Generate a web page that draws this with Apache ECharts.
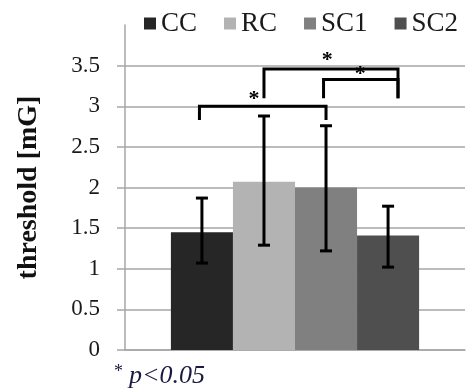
<!DOCTYPE html>
<html>
<head>
<meta charset="utf-8">
<script src="https://cdn.jsdelivr.net/npm/echarts@6/dist/echarts.min.js"></script>
<style>
  html, body { margin: 0; padding: 0; background: #fff; }
  #main { width: 469px; height: 392px; }
</style>
</head>
<body>
<div id="main"></div>
<script>
// groups and mean threshold values
const groupNames = ['CC', 'RC', 'SC1', 'SC2'];
const groupColors = ['#262626', '#b3b3b3', '#808080', '#4f4f4f'];
const means = [1.45, 2.07, 2.0, 1.41];
const errLow = [1.07, 1.29, 1.22, 1.02];
const errHigh = [1.87, 2.88, 2.76, 1.77];
const yTicks = [0, 0.5, 1, 1.5, 2, 2.5, 3, 3.5];

// significance brackets: [fromSlot, toSlot, lineValue, leftLegEnd, rightLegEnd]
const brackets = [
  [-0.04, 2.0, 3.0, 2.83, 2.83],
  [1.0, 3.16, 3.46, 3.1, 3.1],
  [1.96, 3.16, 3.33, 3.1, 3.1]
];
// stars: [slot, value]
const stars = [
  [0.84, 3.09],
  [2.02, 3.56],
  [2.55, 3.39]
];

const gapPct = 27;
const serif = '"Liberation Serif", "Times New Roman", serif';

function slotX(api, slot) {
  const c = api.coord([0, 0]);
  const band = api.size([1, 0])[0];
  const w = band * (1 - gapPct / 100) / groupNames.length;
  return c[0] + (slot - (groupNames.length - 1) / 2) * w;
}

const barSeries = groupNames.map((name, i) => ({
  name: name,
  type: 'bar',
  barGap: 0,
  barCategoryGap: gapPct + '%',
  itemStyle: { color: groupColors[i] },
  data: [means[i]]
}));

const errorSeries = {
  type: 'custom',
  z: 5,
  silent: true,
  data: groupNames.map((n, i) => [0, errLow[i], errHigh[i], i]),
  renderItem: function (params, api) {
    const x = slotX(api, api.value(3));
    const yl = api.coord([0, api.value(1)])[1];
    const yh = api.coord([0, api.value(2)])[1];
    const cap = 6;
    const style = { stroke: '#000', lineWidth: 3 };
    return {
      type: 'group',
      children: [
        { type: 'line', shape: { x1: x, y1: yl, x2: x, y2: yh }, style: style },
        { type: 'line', shape: { x1: x - cap, y1: yl, x2: x + cap, y2: yl }, style: style },
        { type: 'line', shape: { x1: x - cap, y1: yh, x2: x + cap, y2: yh }, style: style }
      ]
    };
  }
};

const bracketSeries = {
  type: 'custom',
  z: 6,
  silent: true,
  data: brackets.map(b => [0].concat(b)),
  renderItem: function (params, api) {
    const x1 = slotX(api, api.value(1));
    const x2 = slotX(api, api.value(2));
    const y = api.coord([0, api.value(3)])[1];
    const yl = api.coord([0, api.value(4)])[1];
    const yr = api.coord([0, api.value(5)])[1];
    return {
      type: 'polyline',
      shape: { points: [[x1, yl], [x1, y], [x2, y], [x2, yr]] },
      style: { stroke: '#000', lineWidth: 3, fill: null, lineJoin: 'miter' }
    };
  }
};

const starSeries = {
  type: 'custom',
  z: 4,
  silent: true,
  data: stars.map(s => [0].concat(s)),
  renderItem: function (params, api) {
    const x = slotX(api, api.value(1));
    const y = api.coord([0, api.value(2)])[1];
    return {
      type: 'text',
      x: x,
      y: y,
      style: {
        text: '*',
        fill: '#000',
        font: 'bold 22px ' + serif,
        align: 'center',
        verticalAlign: 'middle'
      }
    };
  }
};

const chart = echarts.init(document.getElementById('main'));
chart.setOption({
  animation: false,
  legend: {
    data: groupNames,
    left: 139,
    top: 5,
    icon: 'rect',
    itemWidth: 12,
    itemHeight: 12,
    itemGap: 27,
    textStyle: { fontFamily: serif, fontSize: 27, color: '#1a1a1a' }
  },
  grid: { left: 125, right: 4, top: 25, bottom: 42 },
  xAxis: {
    type: 'category',
    data: [''],
    axisLine: { lineStyle: { color: '#a6a6a6', width: 1.5 } },
    axisTick: { show: false },
    axisLabel: { show: false }
  },
  yAxis: {
    type: 'value',
    min: 0,
    max: 4,
    interval: 0.5,
    name: 'threshold [mG]',
    nameLocation: 'middle',
    nameRotate: 90,
    nameGap: 82,
    nameTextStyle: { fontFamily: serif, fontSize: 28, fontWeight: 'bold', color: '#111' },
    axisLine: { show: true, lineStyle: { color: '#a6a6a6', width: 1.5 } },
    axisTick: { show: true, length: 8, customValues: yTicks, lineStyle: { color: '#a6a6a6', width: 1.5 } },
    axisLabel: {
      customValues: yTicks,
      margin: 25,
      fontFamily: serif,
      fontSize: 23,
      color: '#1a1a1a'
    },
    splitLine: {
      lineStyle: {
        color: ['#a6a6a6', '#a6a6a6', '#a6a6a6', '#a6a6a6', '#a6a6a6', '#a6a6a6', '#a6a6a6', '#a6a6a6', 'transparent'],
        width: 1.5
      }
    }
  },
  graphic: [{
    type: 'text',
    left: 114,
    top: 363,
    style: {
      text: '{a|*}{b|p<0.05}',
      rich: {
        a: { fontFamily: serif, fontSize: 18, fill: '#1a1a40', verticalAlign: 'top', padding: [0, 6, 0, 0] },
        b: { fontFamily: serif, fontSize: 26, fontStyle: 'italic', fill: '#1a1a40' }
      }
    }
  }],
  series: barSeries.concat([errorSeries, starSeries, bracketSeries])
});
</script>
</body>
</html>
